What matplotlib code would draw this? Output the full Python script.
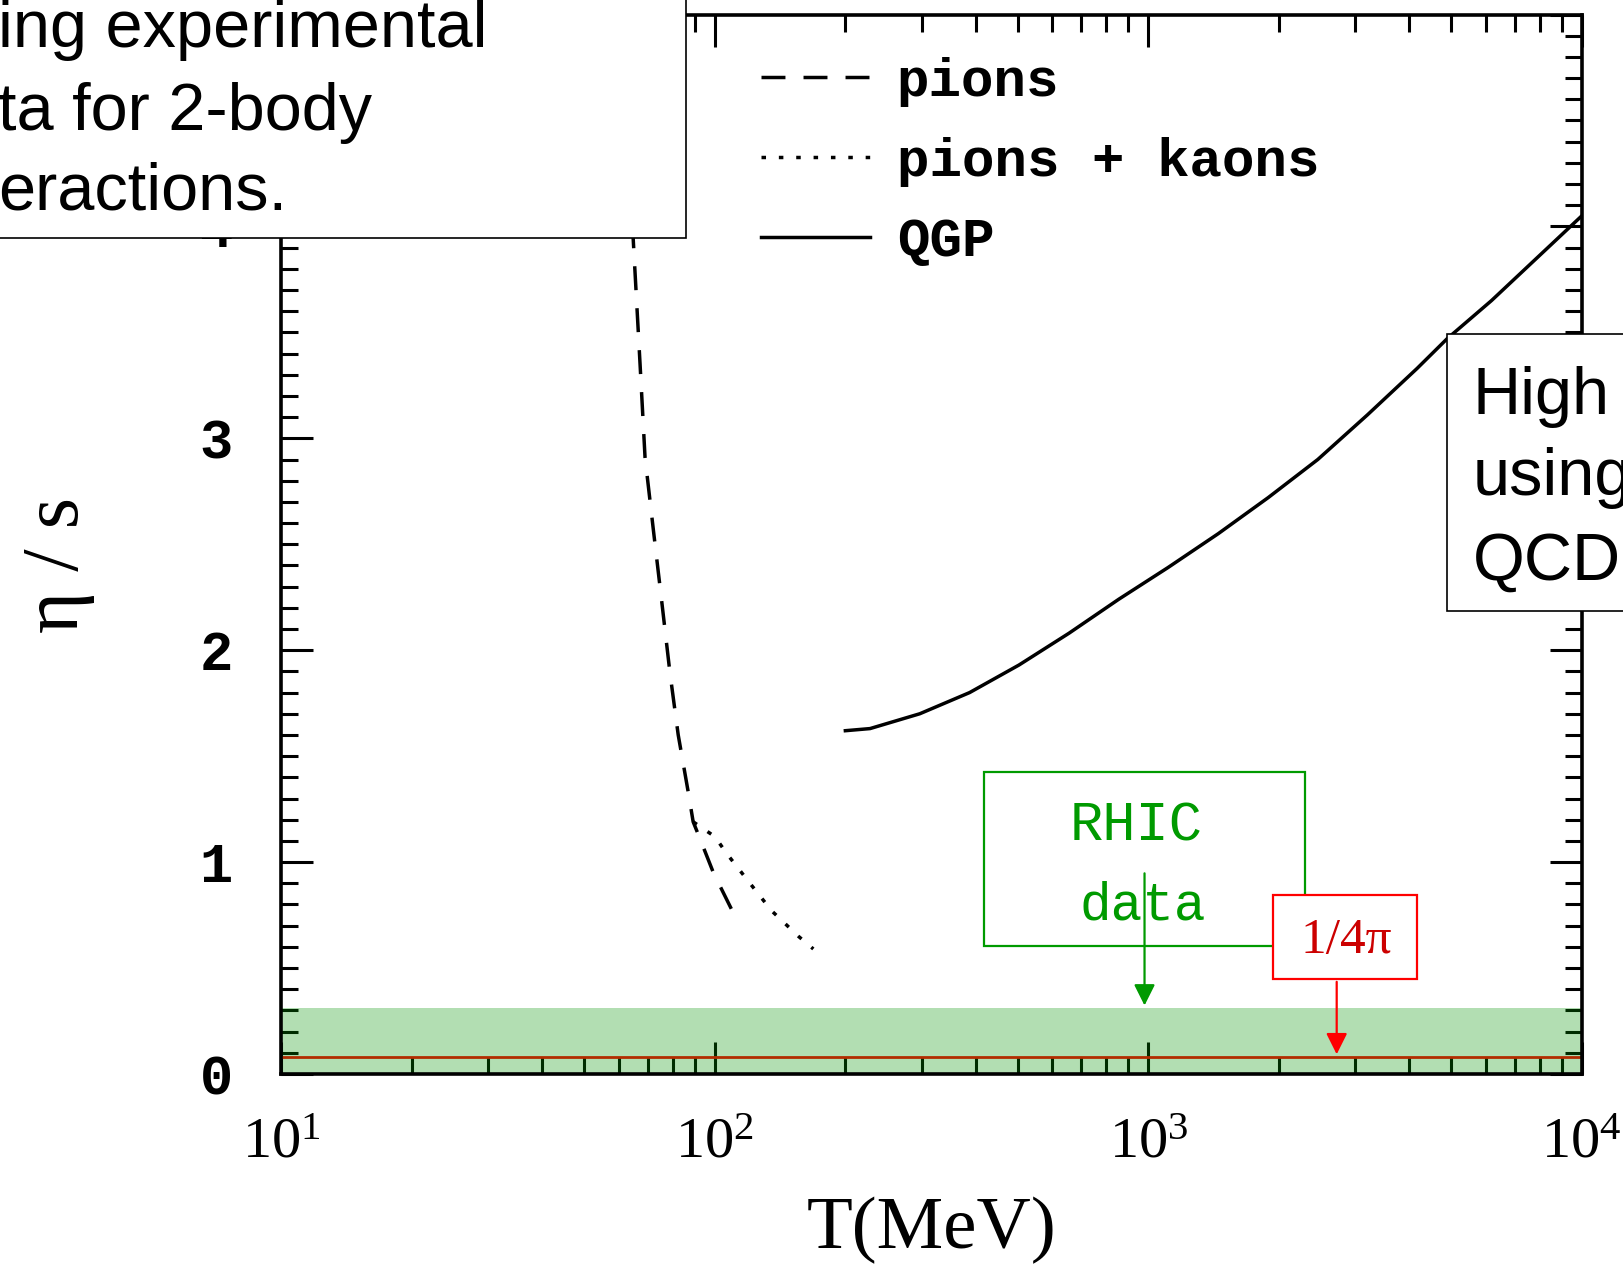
import matplotlib
matplotlib.use("Agg")
import matplotlib.pyplot as plt
from matplotlib.lines import Line2D
from matplotlib.patches import Rectangle
from matplotlib.font_manager import FontProperties
import numpy as np

plt.rcParams['font.family'] = ['Liberation Serif', 'DejaVu Serif']
plt.rcParams['mathtext.default'] = 'regular'

# eta/s vs T (MeV)
pion_T = [60.6, 64.8, 67.2, 69.0, 72.1, 75.4, 78.8, 82.3, 86.8, 89.1, 92.4, 99.2, 110.3]
pion_eta = [5.0, 3.94, 3.35, 2.91, 2.57, 2.23, 1.89, 1.60, 1.33, 1.19, 1.11, 0.95, 0.76]

kaon_T = [89.1, 100, 106.5, 119.4, 135.2, 155.8, 168.7]
kaon_eta = [1.19, 1.12, 1.04, 0.91, 0.77, 0.65, 0.59]

qgp_T = [200, 228, 297, 387, 503, 656, 854, 1110, 1450, 1890, 2460, 3200, 4170, 4890, 6190, 10000]
qgp_eta = [1.62, 1.63, 1.70, 1.80, 1.93, 2.08, 2.24, 2.39, 2.55, 2.72, 2.90, 3.11, 3.33, 3.47, 3.65, 4.05]

rhic_band = (0.0, 0.31)
kss_bound = 1 / (4 * np.pi)

x_ticks = [10, 100, 1000, 10000]
x_ticklabels = ['$10^{1}$', '$10^{2}$', '$10^{3}$', '$10^{4}$']
y_ticks = [0, 1, 2, 3, 4, 5]
y_ticklabels = ['0', '1', '2', '3', '4', '']
legend_labels = ['pions', 'pions + kaons', 'QGP']
left_note = ['ing experimental', 'ta for 2-body', 'eractions.']
right_note = ['High', 'using', 'QCD']

LW = 2.5
DASH = [6.9, 5.2]
DOT = [1.3, 3.7]
GREEN = '#009a00'

fig = plt.figure(figsize=(16.24, 12.66), dpi=100)
ax = fig.add_axes([0.1733, 0.1517, 0.8007, 0.8368])

ax.plot(pion_T, pion_eta, color='black', lw=LW, dashes=DASH)
ax.plot(kaon_T, kaon_eta, color='black', lw=LW, dashes=DOT)
ax.plot(qgp_T, qgp_eta, color='black', lw=LW)

# KSS bound and RHIC band (band sits over line and ticks)
ax.axhline(kss_bound, color='red', lw=2, zorder=2)
ax.axhspan(rhic_band[0], rhic_band[1], color=(0, 0.58, 0), alpha=0.3, lw=0, zorder=2.6)

ax.set_xscale('log')
ax.set_xlim(10, 10000)
ax.set_ylim(0, 5)
ax.set_xticks(x_ticks)
ax.set_xticklabels(x_ticklabels, fontfamily='Liberation Serif', fontsize=42)
ax.set_yticks(y_ticks)
ax.set_yticklabels(y_ticklabels, fontfamily='Liberation Mono', fontweight='bold', fontsize=40)
ax.yaxis.set_minor_locator(matplotlib.ticker.MultipleLocator(0.1))
ax.xaxis.set_minor_locator(matplotlib.ticker.LogLocator(base=10, subs=np.arange(2, 10)))
ax.xaxis.set_minor_formatter(matplotlib.ticker.NullFormatter())
ax.tick_params(which='both', direction='in', top=True, right=True, width=2.2)
ax.tick_params(which='major', length=23)
ax.tick_params(which='minor', length=12)
ax.tick_params(axis='x', pad=31)
ax.tick_params(axis='y', pad=35)
for sp in ax.spines.values():
    sp.set_linewidth(2.6)
    sp.set_zorder(3)

ax.set_xlabel('T(MeV)', fontfamily='Liberation Serif', fontsize=54, labelpad=20)
ax.set_ylabel('η / s', fontfamily='Liberation Serif', fontsize=58)
ax.yaxis.set_label_coords(-0.143, 0.48)

handles = [Line2D([], [], color='black', lw=LW, dashes=DASH),
           Line2D([], [], color='black', lw=LW, dashes=DOT),
           Line2D([], [], color='black', lw=LW)]
ax.legend(handles, legend_labels,
          prop=FontProperties(family='Liberation Mono', weight='bold', size=39),
          frameon=False, loc='upper left', bbox_to_anchor=(0.369, 0.960),
          handlelength=2.0, handletextpad=0.5, labelspacing=0.55,
          borderpad=0, borderaxespad=0)

# RHIC data box and arrow
ax.add_patch(Rectangle((0.5403, 0.1208), 0.2469, 0.1642, transform=ax.transAxes,
                       fill=False, edgecolor=GREEN, lw=1.6, zorder=4))
ax.text(0.657, 0.234, 'RHIC', transform=ax.transAxes, ha='center', va='center',
        color=GREEN, fontfamily='Liberation Mono', fontsize=40, zorder=4)
ax.text(0.6626, 0.1586, 'data', transform=ax.transAxes, ha='center', va='center',
        color=GREEN, fontfamily='Liberation Mono', fontsize=38, zorder=4)
ax.annotate('', xy=(980, rhic_band[1]), xytext=(980, 0.96),
            arrowprops=dict(arrowstyle='-|>', color=GREEN, lw=1.6, mutation_scale=32),
            zorder=5)

# 1/4pi box and arrow
ax.add_patch(Rectangle((0.7626, 0.0897), 0.1108, 0.0793, transform=ax.transAxes,
                       facecolor='white', edgecolor='red', lw=1.6, zorder=4))
ax.text(0.8187, 0.126, '1/4π', transform=ax.transAxes, ha='center', va='center',
        color='#cc0000', fontfamily='Liberation Serif', fontsize=37, zorder=5)
ax.annotate('', xy=(2720, kss_bound), xytext=(2720, 0.448),
            arrowprops=dict(arrowstyle='-|>', color='red', lw=1.6, mutation_scale=32),
            zorder=5)

# overlay text boxes (cut off at the figure edges)
fig.add_artist(Rectangle((-0.01, 0.812), 0.4324, 0.2, transform=fig.transFigure,
                         facecolor='white', edgecolor='black', lw=1.2, zorder=10))
for line, base in zip(left_note, [46.6, 129.5, 209.0]):
    fig.text(-0.001, 1 - base / 1266, line, ha='left', va='baseline',
             fontfamily='Liberation Sans', fontsize=48, zorder=11)
fig.add_artist(Rectangle((0.891, 0.5174), 0.12, 0.2184, transform=fig.transFigure,
                         facecolor='white', edgecolor='black', lw=1.2, zorder=10))
for line, base in zip(right_note, [414.0, 495.0, 580.0]):
    fig.text(0.907, 1 - base / 1266, line, ha='left', va='baseline',
             fontfamily='Liberation Sans', fontsize=48, zorder=11)

fig.savefig('out.png', dpi=100)
